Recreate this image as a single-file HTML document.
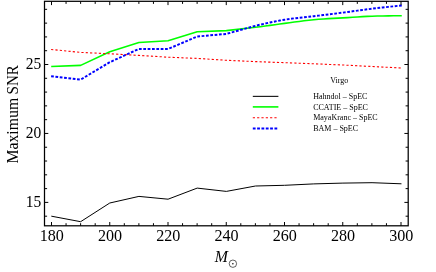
<!DOCTYPE html>
<html><head><meta charset="utf-8"><style>
html,body{margin:0;padding:0;background:#fff;}
svg{display:block;} .t{filter:grayscale(1);}
text{font-family:"Liberation Serif",serif;fill:#000;}
</style></head><body>
<svg width="436" height="272" viewBox="0 0 436 272">
<rect width="436" height="272" fill="#fff"/>
<polyline points="51.30,216.16 80.64,221.70 109.78,203.00 138.92,196.40 168.06,199.20 197.20,188.10 226.34,191.40 255.48,186.00 284.62,185.30 313.76,183.90 342.90,183.10 372.04,182.70 401.48,183.81" fill="none" stroke="#000" stroke-width="1"/>
<polyline points="51.20,66.51 80.64,65.40 109.78,51.70 138.92,42.50 168.06,40.75 197.20,31.70 226.34,30.60 255.48,27.30 260.34,26.68 265.19,26.04 270.05,25.38 274.91,24.71 279.76,24.05 284.62,23.40 289.48,22.75 294.33,22.08 299.19,21.42 304.05,20.79 308.90,20.20 313.76,19.70 318.62,19.29 323.47,18.96 328.33,18.67 333.19,18.42 338.04,18.17 342.90,17.90 347.76,17.60 352.61,17.28 357.47,16.97 362.33,16.67 367.18,16.41 372.04,16.20 377.23,16.04 382.83,15.93 388.43,15.84 393.63,15.79 398.01,15.74 401.78,15.69" fill="none" stroke="#00ff00" stroke-width="1.6" stroke-linejoin="round"/>
<polyline points="51.10,49.46 80.64,52.40 109.78,53.80 138.92,55.40 168.06,57.20 197.20,58.40 226.34,60.30 255.48,61.60 284.62,62.70 313.76,63.80 342.90,65.00 372.04,66.50 400.78,67.98" fill="none" stroke="#ff0000" stroke-width="1.1" stroke-dasharray="2.200 2.150"/>
<polyline points="51.10,76.25 80.64,79.60 109.78,62.20 138.92,48.90 168.06,49.00 197.20,36.50 226.34,33.90 255.48,25.80 260.34,24.64 265.19,23.52 270.05,22.46 274.91,21.47 279.76,20.54 284.62,19.70 289.48,18.97 294.33,18.34 299.19,17.79 304.05,17.28 308.90,16.76 313.76,16.20 318.62,15.61 323.47,15.02 328.33,14.42 333.19,13.83 338.04,13.22 342.90,12.60 347.76,11.96 352.61,11.30 357.47,10.62 362.33,9.96 367.18,9.31 372.04,8.70 377.23,8.09 382.83,7.46 388.43,6.86 393.63,6.30 398.01,5.84 401.78,5.44" fill="none" stroke="#0000ff" stroke-width="1.95" stroke-dasharray="2.750 1.601"/>
<rect x="44.5" y="1.3" width="363.7" height="224.5" fill="none" stroke="#000" stroke-width="1.25"/>
<g stroke="#000" stroke-width="1">
<line x1="44.5" y1="216.19" x2="47.10" y2="216.19"/>
<line x1="408.2" y1="216.19" x2="405.60" y2="216.19"/>
<line x1="44.5" y1="202.40" x2="48.30" y2="202.40"/>
<line x1="408.2" y1="202.40" x2="404.40" y2="202.40"/>
<line x1="44.5" y1="188.61" x2="47.10" y2="188.61"/>
<line x1="408.2" y1="188.61" x2="405.60" y2="188.61"/>
<line x1="44.5" y1="174.82" x2="47.10" y2="174.82"/>
<line x1="408.2" y1="174.82" x2="405.60" y2="174.82"/>
<line x1="44.5" y1="161.03" x2="47.10" y2="161.03"/>
<line x1="408.2" y1="161.03" x2="405.60" y2="161.03"/>
<line x1="44.5" y1="147.24" x2="47.10" y2="147.24"/>
<line x1="408.2" y1="147.24" x2="405.60" y2="147.24"/>
<line x1="44.5" y1="133.45" x2="48.30" y2="133.45"/>
<line x1="408.2" y1="133.45" x2="404.40" y2="133.45"/>
<line x1="44.5" y1="119.66" x2="47.10" y2="119.66"/>
<line x1="408.2" y1="119.66" x2="405.60" y2="119.66"/>
<line x1="44.5" y1="105.87" x2="47.10" y2="105.87"/>
<line x1="408.2" y1="105.87" x2="405.60" y2="105.87"/>
<line x1="44.5" y1="92.08" x2="47.10" y2="92.08"/>
<line x1="408.2" y1="92.08" x2="405.60" y2="92.08"/>
<line x1="44.5" y1="78.29" x2="47.10" y2="78.29"/>
<line x1="408.2" y1="78.29" x2="405.60" y2="78.29"/>
<line x1="44.5" y1="64.50" x2="48.30" y2="64.50"/>
<line x1="408.2" y1="64.50" x2="404.40" y2="64.50"/>
<line x1="44.5" y1="50.71" x2="47.10" y2="50.71"/>
<line x1="408.2" y1="50.71" x2="405.60" y2="50.71"/>
<line x1="44.5" y1="36.92" x2="47.10" y2="36.92"/>
<line x1="408.2" y1="36.92" x2="405.60" y2="36.92"/>
<line x1="44.5" y1="23.13" x2="47.10" y2="23.13"/>
<line x1="408.2" y1="23.13" x2="405.60" y2="23.13"/>
<line x1="44.5" y1="9.34" x2="47.10" y2="9.34"/>
<line x1="408.2" y1="9.34" x2="405.60" y2="9.34"/>
<line x1="51.50" y1="1.3" x2="51.50" y2="5.10"/>
<line x1="51.50" y1="225.8" x2="51.50" y2="222.00"/>
<line x1="66.06" y1="1.3" x2="66.06" y2="3.90"/>
<line x1="66.06" y1="225.8" x2="66.06" y2="223.20"/>
<line x1="80.62" y1="1.3" x2="80.62" y2="3.90"/>
<line x1="80.62" y1="225.8" x2="80.62" y2="223.20"/>
<line x1="95.19" y1="1.3" x2="95.19" y2="3.90"/>
<line x1="95.19" y1="225.8" x2="95.19" y2="223.20"/>
<line x1="109.75" y1="1.3" x2="109.75" y2="5.10"/>
<line x1="109.75" y1="225.8" x2="109.75" y2="222.00"/>
<line x1="124.31" y1="1.3" x2="124.31" y2="3.90"/>
<line x1="124.31" y1="225.8" x2="124.31" y2="223.20"/>
<line x1="138.88" y1="1.3" x2="138.88" y2="3.90"/>
<line x1="138.88" y1="225.8" x2="138.88" y2="223.20"/>
<line x1="153.44" y1="1.3" x2="153.44" y2="3.90"/>
<line x1="153.44" y1="225.8" x2="153.44" y2="223.20"/>
<line x1="168.00" y1="1.3" x2="168.00" y2="5.10"/>
<line x1="168.00" y1="225.8" x2="168.00" y2="222.00"/>
<line x1="182.56" y1="1.3" x2="182.56" y2="3.90"/>
<line x1="182.56" y1="225.8" x2="182.56" y2="223.20"/>
<line x1="197.12" y1="1.3" x2="197.12" y2="3.90"/>
<line x1="197.12" y1="225.8" x2="197.12" y2="223.20"/>
<line x1="211.69" y1="1.3" x2="211.69" y2="3.90"/>
<line x1="211.69" y1="225.8" x2="211.69" y2="223.20"/>
<line x1="226.25" y1="1.3" x2="226.25" y2="5.10"/>
<line x1="226.25" y1="225.8" x2="226.25" y2="222.00"/>
<line x1="240.81" y1="1.3" x2="240.81" y2="3.90"/>
<line x1="240.81" y1="225.8" x2="240.81" y2="223.20"/>
<line x1="255.38" y1="1.3" x2="255.38" y2="3.90"/>
<line x1="255.38" y1="225.8" x2="255.38" y2="223.20"/>
<line x1="269.94" y1="1.3" x2="269.94" y2="3.90"/>
<line x1="269.94" y1="225.8" x2="269.94" y2="223.20"/>
<line x1="284.50" y1="1.3" x2="284.50" y2="5.10"/>
<line x1="284.50" y1="225.8" x2="284.50" y2="222.00"/>
<line x1="299.06" y1="1.3" x2="299.06" y2="3.90"/>
<line x1="299.06" y1="225.8" x2="299.06" y2="223.20"/>
<line x1="313.62" y1="1.3" x2="313.62" y2="3.90"/>
<line x1="313.62" y1="225.8" x2="313.62" y2="223.20"/>
<line x1="328.19" y1="1.3" x2="328.19" y2="3.90"/>
<line x1="328.19" y1="225.8" x2="328.19" y2="223.20"/>
<line x1="342.75" y1="1.3" x2="342.75" y2="5.10"/>
<line x1="342.75" y1="225.8" x2="342.75" y2="222.00"/>
<line x1="357.31" y1="1.3" x2="357.31" y2="3.90"/>
<line x1="357.31" y1="225.8" x2="357.31" y2="223.20"/>
<line x1="371.88" y1="1.3" x2="371.88" y2="3.90"/>
<line x1="371.88" y1="225.8" x2="371.88" y2="223.20"/>
<line x1="386.44" y1="1.3" x2="386.44" y2="3.90"/>
<line x1="386.44" y1="225.8" x2="386.44" y2="223.20"/>
<line x1="401.00" y1="1.3" x2="401.00" y2="5.10"/>
<line x1="401.00" y1="225.8" x2="401.00" y2="222.00"/>
</g>
<g class="t" font-size="15.8px">
<text x="51.80" y="241.2" text-anchor="middle" font-size="16.1px">180</text>
<text x="110.05" y="241.2" text-anchor="middle" font-size="16.1px">200</text>
<text x="168.30" y="241.2" text-anchor="middle" font-size="16.1px">220</text>
<text x="226.55" y="241.2" text-anchor="middle" font-size="16.1px">240</text>
<text x="284.80" y="241.2" text-anchor="middle" font-size="16.1px">260</text>
<text x="343.05" y="241.2" text-anchor="middle" font-size="16.1px">280</text>
<text x="401.30" y="241.2" text-anchor="middle" font-size="16.1px">300</text>
<text x="41.3" y="206.80" text-anchor="end" font-size="15.5px" transform="translate(0,206.80) scale(1,1.04) translate(0,-206.80)">15</text>
<text x="41.3" y="137.85" text-anchor="end" font-size="15.5px" transform="translate(0,137.85) scale(1,1.04) translate(0,-137.85)">20</text>
<text x="41.3" y="68.90" text-anchor="end" font-size="15.5px" transform="translate(0,68.90) scale(1,1.04) translate(0,-68.90)">25</text>
<text transform="translate(18.3,163.6) rotate(-90) scale(1.02,1.07)" font-size="15.5px">Maximum</text>
<text transform="translate(18.3,94.4) rotate(-90) scale(0.97,1.07)" font-size="15.5px">SNR</text>
<text x="214.7" y="261.9" font-style="italic" font-size="15.8px">M</text>
</g>
<circle cx="232.9" cy="263.7" r="3.7" fill="none" stroke="#000" stroke-width="0.62"/>
<circle cx="232.9" cy="263.7" r="0.75" fill="#000"/>
<g class="t" font-size="8px">
<text x="339.2" y="83.2" text-anchor="middle">Virgo</text>
<text x="313.2" y="98.8">Hahndol – SpEC</text>
<text x="313.2" y="109.5">CCATIE – SpEC</text>
<text x="313.2" y="120.2">MayaKranc – SpEC</text>
<text x="313.2" y="130.9">BAM – SpEC</text>
</g>
<line x1="252.8" y1="96.35" x2="278.4" y2="96.35" stroke="#000" stroke-width="1.05"/>
<line x1="252.8" y1="106.9" x2="278.4" y2="106.9" stroke="#00ff00" stroke-width="1.6"/>
<line x1="252.8" y1="117.7" x2="278.4" y2="117.7" stroke="#ff0000" stroke-width="1.1" stroke-dasharray="2.2 2.12"/>
<line x1="252.8" y1="128.5" x2="278.4" y2="128.5" stroke="#0000ff" stroke-width="2.2" stroke-dasharray="2.8 1.53"/>
</svg>
</body></html>
